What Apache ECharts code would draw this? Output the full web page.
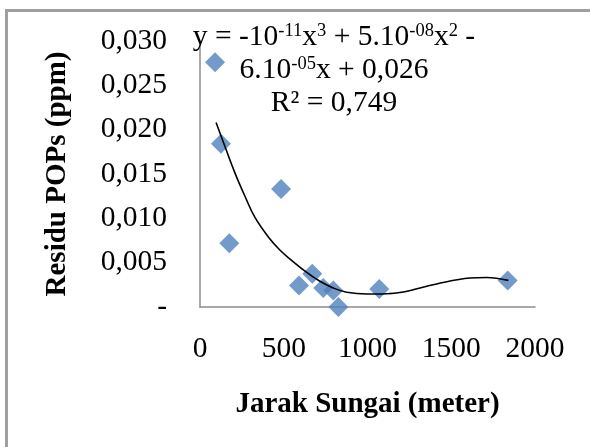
<!DOCTYPE html>
<html>
<head>
<meta charset="utf-8">
<script src="https://cdn.jsdelivr.net/npm/echarts@6/dist/echarts.min.js"></script>
<style>
  html, body { margin: 0; padding: 0; background: #fff; }
  #chart { width: 590px; height: 447px; }
</style>
</head>
<body>
<div id="chart"></div>
<script>
// observed samples: distance (m) vs POPs residue (ppm)
const jarak = [90, 125, 484, 175, 670, 591, 736, 796, 826, 1070, 1837];
const residu = [0.0276, 0.0184, 0.0133, 0.0072, 0.00375, 0.00243, 0.00214, 0.00187, 0.0, 0.00203, 0.0030];

// polynomial trendline
const trendX = [96, 149, 209, 269, 328, 408, 478, 557, 637, 716, 796, 876, 995, 1115, 1214, 1413, 1612, 1711, 1841];
const trendY = [0.0208, 0.0181, 0.0151, 0.01246, 0.0101, 0.0079, 0.0064, 0.0051, 0.0039, 0.0029, 0.00214, 0.00166, 0.00146, 0.0015, 0.00169, 0.00259, 0.00327, 0.00333, 0.0030];

const xTicks = { min: 0, max: 2000, interval: 500 };
const yTicks = { min: 0, max: 0.030, interval: 0.005 };

const serif = '"Liberation Serif", "Times New Roman", serif';
const axisGray = '#8c8c8c';
const fs = 29.5;

const chart = echarts.init(document.getElementById('chart'));
chart.setOption({
  backgroundColor: '#fff',
  animation: false,
  grid: { left: 200, right: 55, top: 41, bottom: 140 },
  title: {
    left: 334, top: 21, padding: 0,
    textAlign: 'center',
    text: '{n|y = -10}{s|-11}{n|x}{s|3}{n| + 5.10}{s|-08}{n|x}{s|2}{n| -}\n' +
          '{n|6.10}{s|-05}{n|x + 0,026}\n' +
          '{n|R² = 0,749}',
    textStyle: {
      fontFamily: serif, fontSize: fs, fontWeight: 'normal', color: '#000',
      rich: {
        n: { fontFamily: serif, fontSize: fs, color: '#000', lineHeight: 33 },
        s: { fontFamily: serif, fontSize: 18.5, color: '#000', lineHeight: 33, verticalAlign: 'top', padding: [1, 0, 0, 0] }
      }
    }
  },
  xAxis: {
    type: 'value',
    min: xTicks.min, max: xTicks.max, interval: xTicks.interval,
    name: 'Jarak Sungai (meter)',
    nameLocation: 'middle',
    nameGap: 83,
    nameTextStyle: { fontFamily: serif, fontSize: 29, fontWeight: 'bold', color: '#000' },
    axisLine: { show: true, lineStyle: { color: axisGray, width: 1.5 } },
    axisTick: { show: false },
    splitLine: { show: false },
    axisLabel: { fontFamily: serif, fontSize: fs, color: '#000', margin: 27, formatter: v => String(v) }
  },
  yAxis: {
    type: 'value',
    min: yTicks.min, max: yTicks.max, interval: yTicks.interval,
    name: 'Residu POPs (ppm)',
    nameLocation: 'middle',
    nameGap: 128,
    nameTextStyle: { fontFamily: serif, fontSize: 29, fontWeight: 'bold', color: '#000' },
    axisLine: { show: true, lineStyle: { color: axisGray, width: 1.5 } },
    axisTick: { show: false },
    splitLine: { show: false },
    axisLabel: {
      fontFamily: serif, fontSize: fs, color: '#000', margin: 33,
      formatter: v => v === 0 ? '-' : v.toFixed(3).replace('.', ',')
    }
  },
  series: [
    {
      type: 'scatter',
      symbol: 'diamond',
      symbolSize: 20,
      itemStyle: { color: '#4F81BD' },
      data: jarak.map((x, i) => [x, residu[i]]),
      z: 2
    },
    {
      type: 'line',
      smooth: 0.4,
      showSymbol: false,
      lineStyle: { color: '#000', width: 1.6 },
      data: trendX.map((x, i) => [x, trendY[i]]),
      z: 3
    }
  ],
  graphic: [{
    type: 'rect',
    shape: { x: 6.5, y: 10.5, width: 600, height: 460 },
    style: { fill: 'none', stroke: '#a0a0a0', lineWidth: 3 },
    silent: true
  }]
});
</script>
</body>
</html>
